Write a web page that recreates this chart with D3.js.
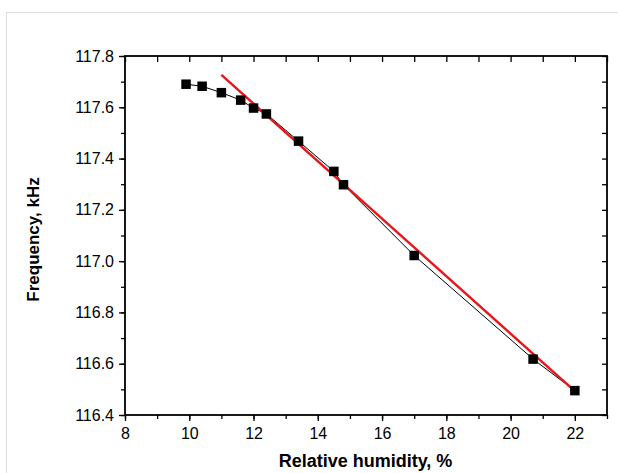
<!DOCTYPE html>
<html>
<head>
<meta charset="utf-8">
<script src="https://cdn.jsdelivr.net/npm/d3@7"></script>
<style>
  body { margin: 0; background: #fff; }
  text { font-family: "Liberation Sans", Arial, sans-serif; fill: #000; }
</style>
</head>
<body>
<div id="app"></div>
<script>
// measured points
const humidity = [9.9, 10.4, 11.0, 11.6, 12.0, 12.4, 13.4, 14.5, 14.8, 17.0, 20.7, 22.0];
const frequency = [117.690, 117.682, 117.657, 117.628, 117.597, 117.574, 117.468, 117.350, 117.298, 117.022, 116.618, 116.495];

// linear fit end points (red)
const fitX = [11.0, 22.0];
const fitY = [117.726, 116.493];

const xTicks = [8, 10, 12, 14, 16, 18, 20, 22];
const yTicks = [116.4, 116.6, 116.8, 117.0, 117.2, 117.4, 117.6, 117.8];

const W = 618, H = 473;
const margin = { left: 125, top: 56, right: 11, bottom: 58 };
const innerW = W - margin.left - margin.right;
const innerH = H - margin.top - margin.bottom;

const svg = d3.select('#app')
  .append('svg')
    .attr('width', W)
    .attr('height', H);

// light outer frame
svg.append('rect')
  .attr('x', 6.5).attr('y', 12.5)
  .attr('width', W).attr('height', H)
  .attr('fill', 'none')
  .attr('stroke', '#dcdcdc');

const g = svg.append('g')
  .attr('transform', `translate(${margin.left}, ${margin.top})`);

const x = d3.scaleLinear().domain([8, 23]).range([0, innerW]);
const y = d3.scaleLinear().domain([116.4, 117.8]).range([innerH, 0]);

const xMinor = d3.range(8, 23.01, 1);
const yMinor = d3.range(116.4, 117.801, 0.1);

function styleAxis(sel) {
  sel.select('.domain').remove();
  sel.selectAll('line').attr('stroke', '#000').attr('stroke-width', 1.3);
  sel.selectAll('text').style('font-size', '16px');
}

// bottom axis
g.append('g')
  .attr('transform', `translate(0, ${innerH})`)
  .call(d3.axisBottom(x).tickValues(xMinor).tickSize(4).tickFormat(''))
  .call(styleAxis);
g.append('g')
  .attr('transform', `translate(0, ${innerH})`)
  .call(d3.axisBottom(x).tickValues(xTicks).tickSize(6).tickPadding(7).tickFormat(d3.format('d')))
  .call(styleAxis);

// top axis, inward ticks
g.append('g')
  .call(d3.axisTop(x).tickValues(xMinor).tickSize(-6).tickFormat(''))
  .call(styleAxis);

// left axis
g.append('g')
  .call(d3.axisLeft(y).tickValues(yMinor).tickSize(4).tickFormat(''))
  .call(styleAxis);
g.append('g')
  .call(d3.axisLeft(y).tickValues(yTicks).tickSize(6).tickPadding(5).tickFormat(d3.format('.1f')))
  .call(styleAxis);

// right axis, inward ticks
g.append('g')
  .attr('transform', `translate(${innerW}, 0)`)
  .call(d3.axisRight(y).tickValues(yMinor).tickSize(-5).tickFormat(''))
  .call(styleAxis);

// frame
g.append('rect')
  .attr('x', 0).attr('y', 0)
  .attr('width', innerW).attr('height', innerH)
  .attr('fill', 'none')
  .attr('stroke', '#000')
  .attr('stroke-width', 1.8);

const pts = humidity.map((h, i) => [h, frequency[i]]);

// data line
g.append('path')
  .datum(pts)
  .attr('d', d3.line().x(d => x(d[0])).y(d => y(d[1])))
  .attr('fill', 'none')
  .attr('stroke', '#000')
  .attr('stroke-width', 1);

// fit line
g.append('path')
  .datum(fitX.map((v, i) => [v, fitY[i]]))
  .attr('d', d3.line().x(d => x(d[0])).y(d => y(d[1])))
  .attr('fill', 'none')
  .attr('stroke', '#e8161b')
  .attr('stroke-width', 2.4);

// markers
const s = 9.5;
g.selectAll('rect.pt')
  .data(pts)
  .join('rect')
    .attr('class', 'pt')
    .attr('x', d => x(d[0]) - s / 2)
    .attr('y', d => y(d[1]) - s / 2)
    .attr('width', s)
    .attr('height', s)
    .attr('fill', '#000');

// axis titles
svg.append('text')
  .attr('x', 365.5)
  .attr('y', 467)
  .attr('text-anchor', 'middle')
  .style('font-size', '18px')
  .style('font-weight', 'bold')
  .text('Relative humidity, %');

svg.append('text')
  .attr('transform', `translate(39, ${margin.top + innerH / 2 + 4}) rotate(-90)`)
  .attr('text-anchor', 'middle')
  .style('font-size', '17px')
  .style('font-weight', 'bold')
  .text('Frequency, kHz');
</script>
</body>
</html>
